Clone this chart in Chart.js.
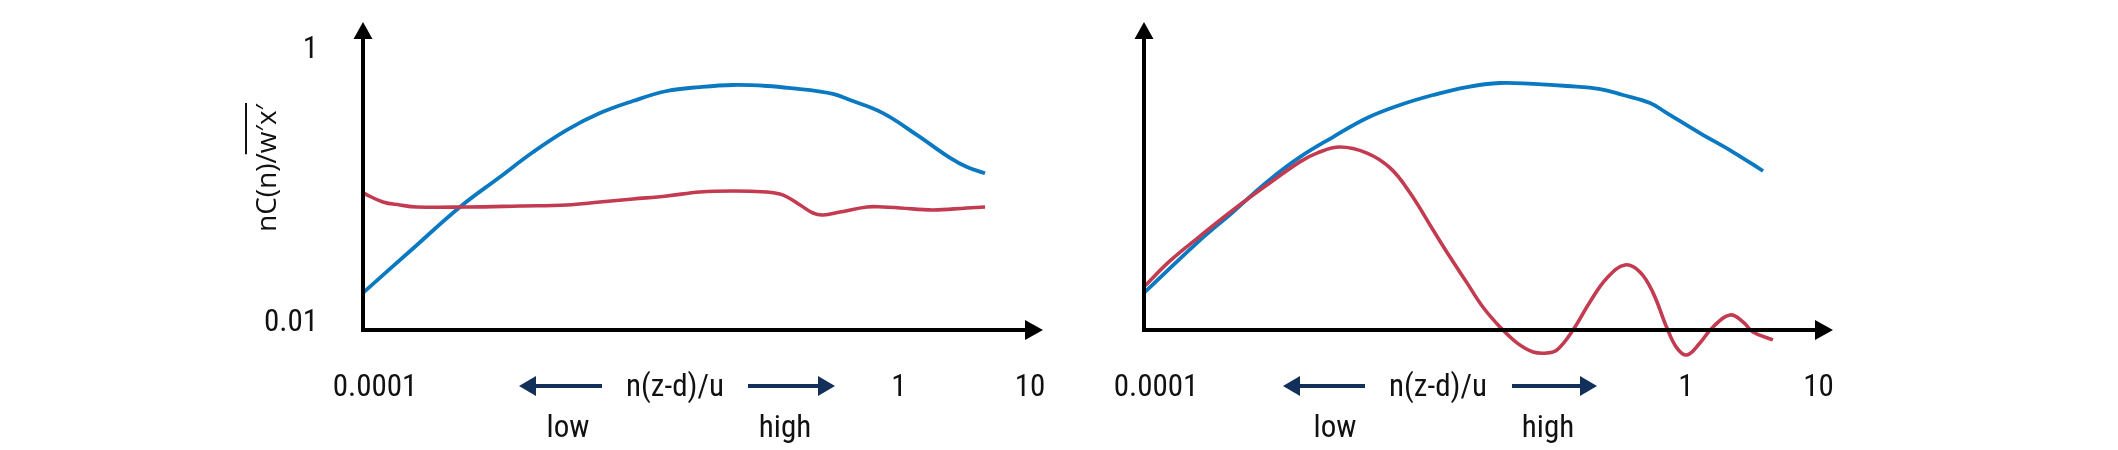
<!DOCTYPE html>
<html>
<head>
<meta charset="utf-8">
<script src="https://cdn.jsdelivr.net/npm/chart.js@4.4.1/dist/chart.umd.min.js"></script>
<style>
  html, body { margin: 0; padding: 0; background: #fff; }
  #wrap { display: flex; width: 2118px; height: 450px; }
  canvas { display: block; }
</style>
</head>
<body>
<div id="wrap">
  <canvas id="leftChart" width="1059" height="450"></canvas>
  <canvas id="rightChart" width="1059" height="450"></canvas>
</div>
<script>
// ticks and labels
const xTickValues = [0.0001, 1, 10];
const xTickLabels = ['0.0001', '1', '10'];
const yTickValues = [0.01, 1];
const yTickLabels = ['0.01', '1'];
const xTitle = 'n(z-d)/u';
const yTitleMain = 'nC(n)/';
const yTitleBar = 'w′x′';
const lowLabel = 'low';
const highLabel = 'high';
const xAxisAt = 0.00845; // value where the horizontal axis sits

// left panel
const leftBlueX = [1e-4, 2.29e-4, 5.5e-4, 1.11e-3, 1.99e-3, 3.61e-3, 6.44e-3, 0.0115, 0.0209, 0.0374, 0.0667, 0.121, 0.217, 0.292, 0.387, 0.522, 0.931, 1.69, 3.03, 4.08, 5.6];
const leftBlueY = [0.0158, 0.032, 0.0673, 0.1116, 0.17, 0.247, 0.328, 0.402, 0.476, 0.509, 0.527, 0.518, 0.492, 0.476, 0.453, 0.409, 0.328, 0.227, 0.154, 0.132, 0.119];
const leftRedX = [1e-4, 1.42e-4, 1.91e-4, 2.58e-4, 6.22e-4, 1.58e-3, 3.61e-3, 6.44e-3, 0.0115, 0.0209, 0.0374, 0.0667, 0.121, 0.152, 0.173, 0.217, 0.272, 0.324, 0.438, 0.703, 0.931, 1.26, 2.24, 4.08, 5.6];
const leftRedY = [0.0852, 0.0732, 0.0696, 0.0673, 0.0673, 0.0684, 0.0696, 0.0732, 0.077, 0.081, 0.0866, 0.0881, 0.0866, 0.0838, 0.0796, 0.0696, 0.0608, 0.0588, 0.0618, 0.0673, 0.0673, 0.0662, 0.064, 0.0662, 0.0673];

// right panel
const rightBlueX = [1e-4, 2.65e-4, 4.7e-4, 8.47e-4, 1.5e-3, 2.67e-3, 4.82e-3, 8.55e-3, 0.0152, 0.0274, 0.0486, 0.0863, 0.156, 0.277, 0.412, 0.659, 0.885, 1.57, 2.79, 4.7];
const rightBlueY = [0.0158, 0.0385, 0.0618, 0.1026, 0.156, 0.219, 0.302, 0.376, 0.445, 0.509, 0.545, 0.536, 0.518, 0.492, 0.445, 0.389, 0.328, 0.234, 0.17, 0.1235];
const rightRedX = [1e-4, 1.57e-4, 2.65e-4, 4.7e-4, 8.47e-4, 1.5e-3, 2.02e-3, 3.01e-3, 4.82e-3, 7.2e-3, 0.0102, 0.0152, 0.0204, 0.0274, 0.0361, 0.0486, 0.0653, 0.0863, 0.11, 0.131, 0.173, 0.232, 0.312, 0.427, 0.553, 0.695, 0.885, 1.05, 1.25, 1.57, 1.97, 2.65, 3.32, 3.94, 5.58];
const rightRedY = [0.0175, 0.0271, 0.0412, 0.064, 0.0975, 0.144, 0.167, 0.185, 0.167, 0.13, 0.0852, 0.0456, 0.0289, 0.0187, 0.01245, 0.00889, 0.00679, 0.00583, 0.00573, 0.00603, 0.00845, 0.01355, 0.0203, 0.0253, 0.0225, 0.0158, 0.00874, 0.00624, 0.00554, 0.00679, 0.00889, 0.01088, 0.00967, 0.00817, 0.00714];

const BLUE = '#0a79c1';
const RED = '#c23b50';
const NAVY = '#12305a';
const NARROW = "'Liberation Sans Narrow', 'Roboto Condensed', 'DejaVu Sans Condensed', sans-serif";

const toPoints = (xs, ys) => xs.map((x, i) => ({ x: x, y: ys[i] }));

function triangle(ctx, tipX, tipY, dx, dy, len, half) {
    // dx,dy = direction the arrow points to
    const bx = tipX - dx * len, by = tipY - dy * len;
    ctx.beginPath();
    ctx.moveTo(tipX, tipY);
    ctx.lineTo(bx - dy * half, by + dx * half);
    ctx.lineTo(bx + dy * half, by - dx * half);
    ctx.closePath();
    ctx.fill();
}

function navArrow(ctx, tail, tip, yy) {
    const dir = tip > tail ? 1 : -1;
    ctx.strokeStyle = NAVY;
    ctx.fillStyle = NAVY;
    ctx.lineWidth = 4;
    ctx.beginPath();
    ctx.moveTo(tail, yy);
    ctx.lineTo(tip - dir * 15, yy);
    ctx.stroke();
    triangle(ctx, tip, yy, dir, 0, 17, 10);
}

function makeChart(id, series, opts) {
    const axesPlugin = {
        id: 'schematicAxes',
        afterDraw(chart) {
            const { ctx, chartArea: ca, scales: { x, y } } = chart;
            const axisY = y.getPixelForValue(xAxisAt);
            ctx.save();

            // axes with arrow heads
            ctx.strokeStyle = '#000';
            ctx.fillStyle = '#000';
            ctx.lineWidth = 4;
            ctx.lineJoin = 'miter';
            ctx.beginPath();
            ctx.moveTo(ca.left, ca.top + 15);
            ctx.lineTo(ca.left, axisY);
            ctx.lineTo(ca.right - 15, axisY);
            ctx.stroke();
            triangle(ctx, ca.left, ca.top, 0, -1, 17, 9.5);
            triangle(ctx, ca.right, axisY, 1, 0, 18, 10);

            // x tick labels
            ctx.fillStyle = '#111';
            ctx.font = '31px ' + NARROW;
            ctx.textAlign = 'center';
            ctx.textBaseline = 'alphabetic';
            xTickValues.forEach((v, i) => {
                ctx.fillText(xTickLabels[i], x.getPixelForValue(v) + 12, 396);
            });

            // x title with direction arrows
            ctx.fillText(xTitle, opts.titleX, 396);
            ctx.fillText(lowLabel, opts.lowX, 437);
            ctx.fillText(highLabel, opts.highX, 437);
            navArrow(ctx, opts.leftArrow[0], opts.leftArrow[1], 386);
            navArrow(ctx, opts.rightArrow[0], opts.rightArrow[1], 386);

            if (opts.showY) {
                ctx.fillStyle = '#111';
                ctx.textAlign = 'right';
                yTickValues.forEach((v, i) => {
                    ctx.fillText(yTickLabels[i], ca.left - 45, y.getPixelForValue(v) + 11);
                });

                // rotated y title with overbar
                ctx.save();
                ctx.translate(276, 168);
                ctx.rotate(-Math.PI / 2);
                ctx.font = '28px "Open Sans", sans-serif';
                ctx.textAlign = 'left';
                const wMain = ctx.measureText(yTitleMain).width;
                const wBar = ctx.measureText(yTitleBar).width;
                const start = -(wMain + wBar) / 2;
                ctx.fillText(yTitleMain, start, 0);
                ctx.fillText(yTitleBar, start + wMain, 0);
                ctx.strokeStyle = '#111';
                ctx.lineWidth = 2;
                ctx.beginPath();
                ctx.moveTo(start + wMain - 1, -30);
                ctx.lineTo(start + wMain + wBar + 1, -30);
                ctx.stroke();
                ctx.restore();
            }
            ctx.restore();
        }
    };

    return new Chart(document.getElementById(id), {
        type: 'line',
        data: {
            datasets: [{
                data: toPoints(series.redX, series.redY),
                borderColor: RED,
                borderWidth: 3.6,
                order: 0
            }, {
                data: toPoints(series.blueX, series.blueY),
                borderColor: BLUE,
                borderWidth: 3.8,
                order: 1
            }]
        },
        options: {
            responsive: false,
            animation: false,
            layout: { padding: opts.padding },
            elements: {
                point: { radius: 0 },
                line: { tension: 0.4, fill: false, borderCapStyle: 'butt' }
            },
            datasets: { line: { clip: false } },
            plugins: { legend: { display: false }, tooltip: { enabled: false } },
            scales: {
                x: { type: 'logarithmic', display: false, bounds: 'data', min: 1e-4, max: opts.xMax },
                y: { type: 'logarithmic', display: false, bounds: 'data', min: 0.00509, max: 1.525 }
            }
        },
        plugins: [axesPlugin]
    });
}

makeChart('leftChart',
    { blueX: leftBlueX, blueY: leftBlueY, redX: leftRedX, redY: leftRedY },
    {
        padding: { left: 363, right: 16, top: 22, bottom: 90 },
        xMax: 15.52,
        showY: true,
        titleX: 675, lowX: 568, highX: 785,
        leftArrow: [602, 519], rightArrow: [748, 835]
    });

makeChart('rightChart',
    { blueX: rightBlueX, blueY: rightBlueY, redX: rightRedX, redY: rightRedY },
    {
        padding: { left: 85, right: 285, top: 22, bottom: 90 },
        xMax: 15.85,
        showY: false,
        titleX: 379, lowX: 276, highX: 489,
        leftArrow: [306, 224], rightArrow: [453, 538]
    });
</script>
</body>
</html>
